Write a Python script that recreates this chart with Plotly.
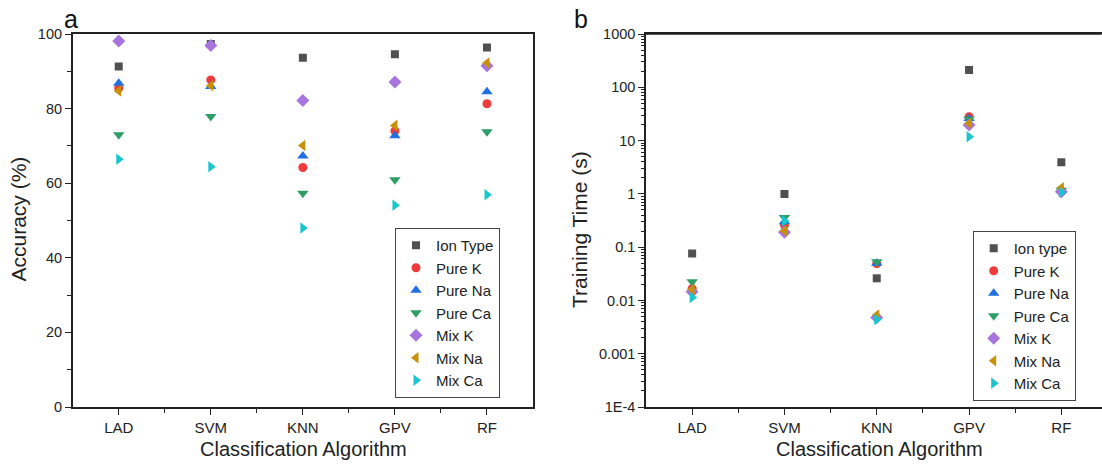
import plotly.graph_objects as go

categories = ["LAD", "SVM", "KNN", "GPV", "RF"]

series_names_a = ["Ion Type", "Pure K", "Pure Na", "Pure Ca", "Mix K", "Mix Na", "Mix Ca"]
series_names_b = ["Ion type", "Pure K", "Pure Na", "Pure Ca", "Mix K", "Mix Na", "Mix Ca"]

# Accuracy (%) per algorithm (LAD, SVM, KNN, GPV, RF)
acc_ion_type = [91.3, 97.3, 93.6, 94.6, 96.4]
acc_pure_k   = [85.5, 87.7, 64.2, 74.0, 81.3]
acc_pure_na  = [86.8, 85.9, 67.3, 72.7, 84.5]
acc_pure_ca  = [73.0, 77.9, 57.3, 60.9, 73.8]
acc_mix_k    = [98.1, 96.9, 82.2, 87.1, 91.5]
acc_mix_na   = [84.7, 86.1, 70.1, 75.5, 92.2]
acc_mix_ca   = [66.4, 64.4, 48.0, 54.1, 56.9]

# Training time (s)
time_ion_type = [0.076, 0.99, 0.026, 211, 3.9]
time_pure_k   = [0.0167, 0.26, 0.049, 28, 1.15]
time_pure_na  = [0.016, 0.30, 0.050, 26, 1.2]
time_pure_ca  = [0.0223, 0.36, 0.053, 25, 1.15]
time_mix_k    = [0.0145, 0.19, 0.0048, 19.5, 1.1]
time_mix_na   = [0.016, 0.20, 0.0053, 21, 1.3]
time_mix_ca   = [0.0113, 0.31, 0.0044, 11.8, 1.07]

log_tick_vals = [1e-4, 1e-3, 1e-2, 1e-1, 1, 10, 100, 1000]
log_tick_text = ["1E-4", "0.001", "0.01", "0.1", "1", "10", "100", "1000"]

acc_series = [acc_ion_type, acc_pure_k, acc_pure_na, acc_pure_ca, acc_mix_k, acc_mix_na, acc_mix_ca]
time_series = [time_ion_type, time_pure_k, time_pure_na, time_pure_ca, time_mix_k, time_mix_na, time_mix_ca]

colors = ["#505050", "#ee3b3b", "#1f6fe5", "#2e9e68", "#a875df", "#c7920a", "#19c6cf"]
symbols = ["square", "circle", "triangle-up", "triangle-down", "diamond", "triangle-left", "triangle-right"]
sizes = [8, 9, 10, 10, 10, 10, 10]

W, H = 1102, 465
FONT = "Liberation Sans, Arial, sans-serif"

xpos = [i + 1 for i in range(len(categories))]
minor_x = [i + 1.5 for i in range(len(categories) - 1)]

fig = go.Figure()
for name, vals, c, s, sz in zip(series_names_a, acc_series, colors, symbols, sizes):
    fig.add_trace(go.Scatter(x=xpos, y=vals, mode="markers", name=name,
                             marker=dict(color=c, symbol=s, size=sz, line=dict(width=0)),
                             xaxis="x", yaxis="y", legend="legend"))
for name, vals, c, s, sz in zip(series_names_b, time_series, colors, symbols, sizes):
    fig.add_trace(go.Scatter(x=xpos, y=vals, mode="markers", name=name,
                             marker=dict(color=c, symbol=s, size=sz, line=dict(width=0)),
                             xaxis="x2", yaxis="y2", legend="legend2"))

def px_x(p):
    return p / W

def px_y(p):
    return 1 - p / H

LINE = "#222222"
ydom = [px_y(407), px_y(34)]
xdom_a = [px_x(72.7), px_x(533)]
RIGHT_EDGE = 1101.5
xdom_b = [px_x(646), px_x(RIGHT_EDGE)]
range_a = [0.5, 5.5]
range_b = [0.5, 0.5 + (RIGHT_EDGE - 646) / 92.3]

def main_x(dom, rng, anchor):
    return dict(domain=dom, range=rng, anchor=anchor, tickmode="array", tickvals=xpos,
                ticktext=categories, showgrid=False, zeroline=False, automargin=False,
                showline=True, mirror=True, linecolor=LINE, linewidth=1.5,
                tickcolor=LINE, tickwidth=1.3, ticklen=6, ticks="outside",
                minor=dict(tickmode="array", tickvals=minor_x, ticks="outside", ticklen=4,
                           tickcolor=LINE, tickwidth=1.3, showgrid=False),
                tickfont=dict(family=FONT, size=15, color="#222"))

def top_x(dom, rng, anchor):
    return dict(domain=dom, range=rng, anchor=anchor, side="top", tickmode="array",
                tickvals=xpos, showticklabels=False, ticks="inside", ticklen=6, tickwidth=1.3,
                tickcolor=LINE, showline=True, linecolor=LINE, linewidth=1.5,
                showgrid=False, zeroline=False, automargin=False,
                minor=dict(tickmode="array", tickvals=minor_x, ticks="inside", ticklen=4,
                           tickcolor=LINE, tickwidth=1.3))

fig.update_layout(
    width=W, height=H,
    margin=dict(l=0, r=0, t=0, b=0, autoexpand=False),
    paper_bgcolor="white", plot_bgcolor="rgba(0,0,0,0)",
    font=dict(family=FONT, color="#222"),
    xaxis=main_x(xdom_a, range_a, "y"),
    xaxis2=main_x(xdom_b, range_b, "y2"),
    xaxis3=top_x(xdom_a, range_a, "y3"),
    xaxis4=top_x(xdom_b, range_b, "y4"),
    yaxis=dict(domain=ydom, range=[0, 100], anchor="x", tickmode="linear", tick0=0, dtick=20,
               ticks="outside", ticklen=6, tickwidth=1.3, tickcolor=LINE, automargin=False,
               showline=True, mirror=True, linecolor=LINE, linewidth=1.5, showgrid=False,
               zeroline=False,
               minor=dict(dtick=10, ticks="outside", ticklen=4, tickcolor=LINE, tickwidth=1.3),
               tickfont=dict(family=FONT, size=14.5, color="#222")),
    yaxis3=dict(domain=ydom, side="right", anchor="x3", range=[0, 100], tickmode="linear",
                tick0=0, dtick=20, ticks="inside", ticklen=6, tickwidth=1.3, tickcolor=LINE,
                showticklabels=False, showline=False, showgrid=False, zeroline=False,
                automargin=False,
                minor=dict(dtick=10, ticks="inside", ticklen=4, tickcolor=LINE, tickwidth=1.3)),
    yaxis2=dict(domain=ydom, type="log", range=[-4, 3], anchor="x2", tickmode="array",
                tickvals=log_tick_vals, ticktext=log_tick_text, automargin=False,
                ticks="outside", ticklen=6, tickwidth=1.3, tickcolor=LINE,
                showline=True, linecolor=LINE, linewidth=1.5, showgrid=False, zeroline=False,
                minor=dict(dtick="D1", ticks="outside", ticklen=3, tickcolor=LINE, tickwidth=1),
                tickfont=dict(family=FONT, size=14.5, color="#222")),
    yaxis4=dict(domain=ydom, side="right", anchor="x4", type="log", range=[-4, 3],
                tickmode="array", tickvals=log_tick_vals, ticks="inside", ticklen=3,
                tickwidth=1.5, tickcolor="#777", showticklabels=False, showline=False,
                showgrid=False, zeroline=False, automargin=False),
    legend=dict(x=px_x(395), y=px_y(228), xanchor="left", yanchor="top",
                bgcolor="white", bordercolor="#444", borderwidth=1,
                font=dict(family=FONT, size=15, color="#222"), itemsizing="trace"),
    legend2=dict(x=px_x(972.7), y=px_y(231), xanchor="left", yanchor="top",
                 bgcolor="white", bordercolor="#444", borderwidth=1,
                 font=dict(family=FONT, size=15, color="#222"), itemsizing="trace"),
    showlegend=True,
)

# frame edge along the top of panel b (domain-relative, not data)
fig.add_shape(type="line", xref="x2 domain", yref="y2 domain", x0=0, x1=1, y0=1, y1=1,
              line=dict(color=LINE, width=1.5), layer="above")

annotations = [
    dict(text="a", x=px_x(62), y=px_y(19), xanchor="left", yanchor="middle",
         font=dict(family=FONT, size=25, color="#111")),
    dict(text="b", x=px_x(572), y=px_y(19), xanchor="left", yanchor="middle",
         font=dict(family=FONT, size=25, color="#111")),
    dict(text="Classification Algorithm", x=px_x(303), y=px_y(449), xanchor="center",
         yanchor="middle", font=dict(family=FONT, size=20, color="#222")),
    dict(text="Classification Algorithm", x=px_x(879), y=px_y(449), xanchor="center",
         yanchor="middle", font=dict(family=FONT, size=20, color="#222")),
    dict(text="Accuracy (%)", x=px_x(17.5), y=px_y(219), xanchor="center", yanchor="middle",
         textangle=-90, font=dict(family=FONT, size=21, color="#222")),
    dict(text="Training Time (s)", x=px_x(579), y=px_y(230), xanchor="center", yanchor="middle",
         textangle=-90, font=dict(family=FONT, size=21, color="#222")),
]
for a in annotations:
    a.update(xref="paper", yref="paper", showarrow=False)
fig.update_layout(annotations=annotations)

fig.write_html("out.html")
